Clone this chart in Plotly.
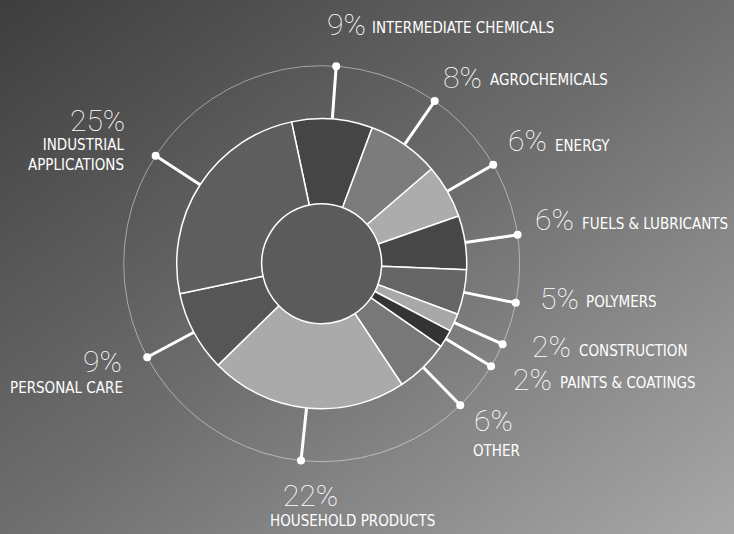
import base64
import math
import plotly.graph_objects as go

# Market share by application segment (percent)
segments = [
    "INTERMEDIATE CHEMICALS", "AGROCHEMICALS", "ENERGY", "FUELS & LUBRICANTS",
    "POLYMERS", "CONSTRUCTION", "PAINTS & COATINGS", "OTHER",
    "HOUSEHOLD PRODUCTS", "PERSONAL CARE", "INDUSTRIAL<br>APPLICATIONS",
]
shares = [9, 8, 6, 6, 5, 2, 2, 6, 22, 9, 25]
pct_labels = ["9%", "8%", "6%", "6%", "5%", "2%", "2%", "6%", "22%", "9%", "25%"]
slice_colors = [
    "#454545", "#7c7c7c", "#acacac", "#474747", "#656565", "#a8a8a8",
    "#343434", "#787878", "#aaaaaa", "#565656", "#5e5e5e",
]

W, H = 734, 534
CX, CY = 321.7, 263.7          # donut centre (px)
R_OUT, R_IN, R_RING = 145, 60, 198
START_DEG = -12                  # first slice starts 12 deg left of 12 o'clock

# label placement: (pct x, pct y, name x, name y, anchor)
label_pos = [
    (325, 24, 370, 28, "left"),
    (441, 77, 488, 80, "left"),
    (506, 140, 553, 146, "left"),
    (533, 219, 580, 224, "left"),
    (538, 298, 584, 302, "left"),
    (530, 346, 577, 351, "left"),
    (511, 379, 558, 383, "left"),
    (472, 420, 471, 451, "left"),
    (281, 495, 268, 521, "left"),
    (124, 361, 125, 388, "right"),
    (127, 120, 126, 155, "right"),
]

# gradient backdrop
svg = f"""<svg xmlns='http://www.w3.org/2000/svg' width='{W}' height='{H}'>
<defs><linearGradient id='g' x1='0' y1='0' x2='1' y2='1'>
<stop offset='0' stop-color='#3e3e3e'/>
<stop offset='0.5' stop-color='#6e6e6e'/>
<stop offset='1' stop-color='#a8a8a8'/>
</linearGradient></defs>
<rect width='{W}' height='{H}' fill='url(#g)'/></svg>"""
bg_uri = "data:image/svg+xml;base64," + base64.b64encode(svg.encode()).decode()

fig = go.Figure()

fig.add_trace(go.Pie(
    values=shares,
    labels=segments,
    sort=False,
    direction="clockwise",
    rotation=START_DEG,
    hole=R_IN / R_OUT,
    textinfo="none",
    hoverinfo="label+percent",
    marker=dict(colors=slice_colors, line=dict(color="white", width=1.5)),
    domain=dict(
        x=[(CX - R_OUT) / W, (CX + R_OUT) / W],
        y=[(H - CY - R_OUT) / H, (H - CY + R_OUT) / H],
    ),
    showlegend=False,
))

# leader lines from slice mid-angles
total = sum(shares)
cum = 0
lx, ly, dx, dy = [], [], [], []
for v in shares:
    mid = math.radians(START_DEG + (cum + v / 2) / total * 360)
    cum += v
    x0, y0 = CX + R_OUT * math.sin(mid), CY - R_OUT * math.cos(mid)
    x1, y1 = CX + R_RING * math.sin(mid), CY - R_RING * math.cos(mid)
    lx += [x0, x1, None]
    ly += [y0, y1, None]
    dx.append(x1)
    dy.append(y1)

fig.add_trace(go.Scatter(x=lx, y=ly, mode="lines",
                         line=dict(color="white", width=3),
                         hoverinfo="skip", showlegend=False))
fig.add_trace(go.Scatter(x=dx, y=dy, mode="markers",
                         marker=dict(color="white", size=8),
                         hoverinfo="skip", showlegend=False))

shapes = [
    dict(type="circle", xref="x", yref="y", layer="below",
         x0=CX - R_RING, x1=CX + R_RING, y0=CY - R_RING, y1=CY + R_RING,
         line=dict(color="rgba(255,255,255,0.45)", width=1)),
    dict(type="circle", xref="x", yref="y", layer="below",
         x0=CX - R_IN, x1=CX + R_IN, y0=CY - R_IN, y1=CY + R_IN,
         fillcolor="#5b5b5b", line=dict(width=0)),
]

annotations = []
for pct, name, (px, py, nx, ny, anchor) in zip(pct_labels, segments, label_pos):
    annotations.append(dict(
        x=px, y=py, xref="x", yref="y", text=pct, showarrow=False,
        xanchor=anchor, yanchor="middle",
        font=dict(family="Roboto", size=30, color="white", weight=100),
    ))
    annotations.append(dict(
        x=nx, y=ny, xref="x", yref="y", text=name, showarrow=False,
        xanchor=anchor, yanchor="middle", align=anchor,
        font=dict(family="DejaVu Sans Condensed, Roboto", size=15,
                  color="white"),
    ))

fig.update_layout(
    width=W, height=H,
    margin=dict(l=0, r=0, t=0, b=0),
    paper_bgcolor="#666666",
    plot_bgcolor="rgba(0,0,0,0)",
    xaxis=dict(range=[0, W], visible=False, fixedrange=True),
    yaxis=dict(range=[H, 0], visible=False, fixedrange=True),
    images=[dict(source=bg_uri, xref="paper", yref="paper", x=0, y=1,
                 sizex=1, sizey=1, sizing="stretch", layer="below")],
    shapes=shapes,
    annotations=annotations,
)

fig.write_html("out.html")
